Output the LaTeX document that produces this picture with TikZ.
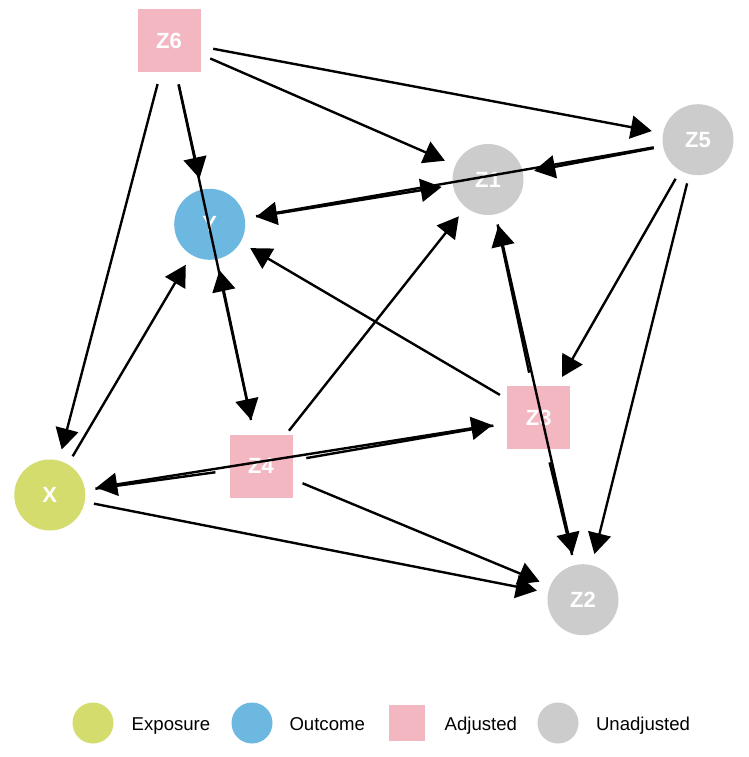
\documentclass[tikz,border=0pt]{standalone}
\usepackage{fontspec}
\setmainfont{Liberation Sans}
\usetikzlibrary{arrows.meta}

\definecolor{expcol}{RGB}{211,220,108}
\definecolor{outcol}{RGB}{108,184,224}
\definecolor{adjcol}{RGB}{243,183,194}
\definecolor{unadjcol}{RGB}{204,204,204}

\pgfdeclarelayer{background}
\pgfsetlayers{background,main}

\begin{document}
\begin{tikzpicture}[x=1pt,y=-1pt,
  dagcirc/.style={circle, minimum size=71pt, inner sep=0pt, draw=none},
  dagsq/.style={rectangle, minimum size=63pt, inner sep=0pt, draw=none, fill=adjcol},
  lbl/.style={text=white, font=\bfseries\fontsize{22}{22}\selectfont},
  tipA/.tip={Triangle[length=21pt,width=23pt]},
  edge/.style={line width=2.4pt, -tipA, shorten <=45pt, shorten >=47pt},
  biedge/.style={line width=2.4pt, tipA-tipA, shorten <=47pt, shorten >=47pt},
  plainedge/.style={line width=2.4pt, shorten <=46pt, shorten >=46pt},
  legtext/.style={anchor=base west, inner sep=0pt, font=\fontsize{18.6}{18.6}\selectfont},
]
\useasboundingbox (0,0) rectangle (748,757);

% nodes of the graph
\node[dagsq, lbl]                  (Z6) at (169,40.5)  {Z6};
\node[dagcirc, fill=unadjcol, lbl] (Z5) at (698,139.7) {Z5};
\node[dagcirc, fill=unadjcol, lbl] (Z1) at (488,179.5) {Z1};
\node[dagcirc, fill=outcol, lbl]   (Y)  at (209.7,224.3) {Y};
\node[dagsq, lbl]                  (Z3) at (538.7,417.7) {Z3};
\node[dagsq, lbl]                  (Z4) at (261,466)   {Z4};
\node[dagcirc, fill=expcol, lbl]   (X)  at (49.8,495)  {X};
\node[dagcirc, fill=unadjcol, lbl] (Z2) at (583,599.7) {Z2};

% edges below the nodes
\begin{pgfonlayer}{background}
  \draw[edge] (Z6.center) -- (X.center);
  \draw[edge] (Z6.center) -- (Y.center);
  \draw[edge] (Z6.center) -- (Z1.center);
  \draw[edge] (Z6.center) -- (Z5.center);
  \draw[edge] (Z5.center) -- (Z1.center);
  \draw[edge] (Z5.center) -- (Z3.center);
  \draw[edge] (Z5.center) -- (Z2.center);
  \draw[edge] (X.center)  -- (Y.center);
  \draw[edge] (Z3.center) -- (Y.center);
  \draw[edge] (Z4.center) -- (Z1.center);
  \draw[edge] (Z4.center) -- (Z2.center);
  \draw[edge] (X.center)  -- (Z2.center);
  \draw[biedge] (Y.center) -- (Z4.center);
  \draw[biedge] (Y.center) -- (Z1.center);
  \draw[plainedge] (X.center)  -- (Z4.center);
  \draw[plainedge] (Z4.center) -- (Z3.center);
  \draw[plainedge] (Z1.center) -- (Z3.center);
  \draw[plainedge] (Z3.center) -- (Z2.center);
\end{pgfonlayer}

% long strokes running across intermediate nodes
\draw[biedge] (X.center)  -- (Z3.center);
\draw[biedge] (Z1.center) -- (Z2.center);
\draw[plainedge, shorten <=45pt, shorten >=47pt] (Z6.center) -- (Z4.center);
\draw[plainedge, shorten <=47pt, shorten >=45pt] (Y.center)  -- (Z5.center);

% legend
\fill[expcol]   (93,723) circle[radius=20.5];
\node[legtext] (lExp) at (131.5,730) {Exposure};
\fill[outcol]   (252,723) circle[radius=20.5];
\node[legtext] (lOut) at (289.3,730) {Outcome};
\fill[adjcol]   (388.8,705) rectangle (424.8,741);
\node[legtext] (lAdj) at (444.5,730) {Adjusted};
\fill[unadjcol] (558,723) circle[radius=20.5];
\node[legtext] (lUna) at (595.8,730) {Unadjusted};
\end{tikzpicture}
\end{document}
